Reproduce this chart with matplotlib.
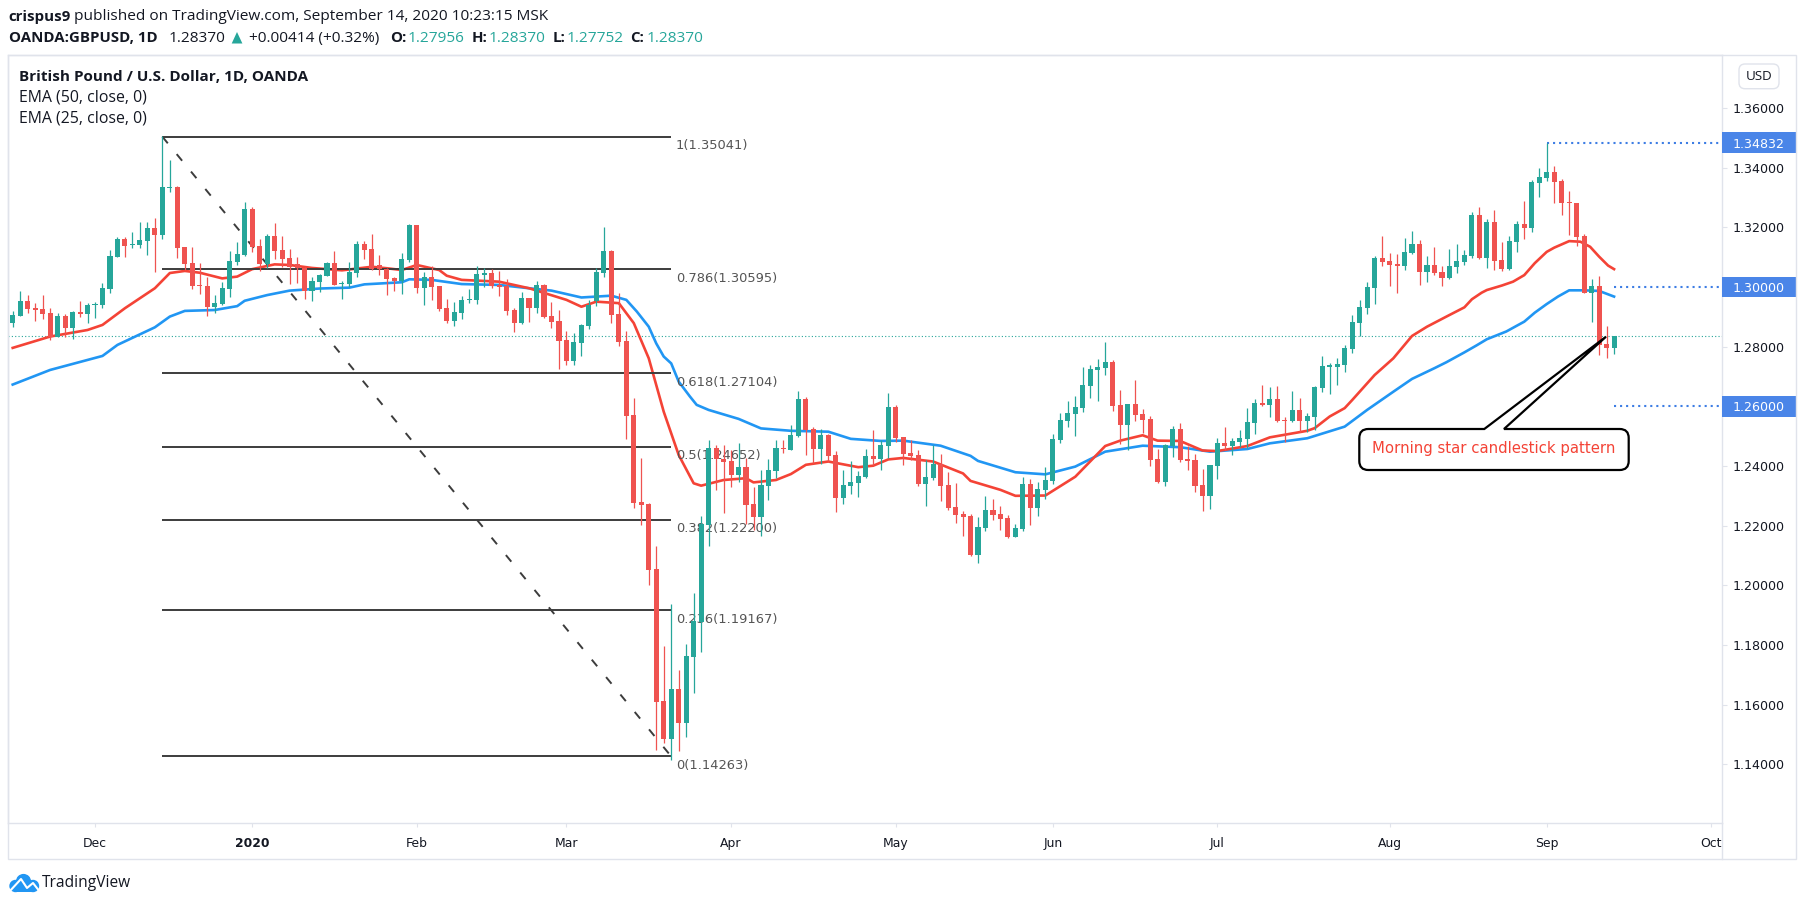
import matplotlib
matplotlib.use("Agg")
import matplotlib.pyplot as plt
from matplotlib.patches import Circle, FancyBboxPatch, PathPatch, Polygon, Rectangle
from matplotlib.path import Path
from matplotlib.transforms import blended_transform_factory

# daily GBPUSD bars
opens = [
    1.2881,1.2904,1.2953,1.2930,1.2926,1.2912,1.2834,1.2903,1.2864,1.2916,
    1.2911,1.2939,1.2940,1.2995,1.3102,1.3161,1.3140,1.3142,1.3155,1.3198,
    1.3176,1.3332,1.3335,1.3134,1.3079,1.3006,1.3003,1.2934,1.2943,1.2995,
    1.3084,1.3107,1.3262,1.3138,1.3078,1.3171,1.3124,1.3096,1.3076,1.3065,
    1.2987,1.3017,1.3038,1.3081,1.3009,1.3010,1.3048,1.3144,1.3128,1.3073,
    1.3061,1.3030,1.3021,1.3091,1.3208,1.2998,1.3033,1.3003,1.2930,1.2887,
    1.2914,1.2956,1.2958,1.3042,1.3046,1.3007,1.3004,1.2923,1.2880,1.2963,
    1.2930,1.3007,1.2903,1.2886,1.2823,1.2752,1.2813,1.2871,1.2953,1.3048,
    1.3122,1.2910,1.2819,1.2571,1.2280,1.2273,1.2055,1.1612,1.1485,1.1652,
    1.1538,1.1760,1.1877,1.2203,1.2461,1.2423,1.2417,1.2370,1.2397,1.2273,
    1.2229,1.2333,1.2383,1.2460,1.2454,1.2501,1.2625,1.2524,1.2457,1.2504,
    1.2437,1.2293,1.2333,1.2343,1.2363,1.2434,1.2424,1.2467,1.2598,1.2497,
    1.2444,1.2437,1.2340,1.2360,1.2407,1.2336,1.2263,1.2239,1.2232,1.2102,
    1.2192,1.2253,1.2239,1.2226,1.2162,1.2189,1.2340,1.2259,1.2320,1.2350,
    1.2487,1.2551,1.2574,1.2594,1.2668,1.2722,1.2729,1.2749,1.2605,1.2537,
    1.2608,1.2574,1.2558,1.2424,1.2346,1.2467,1.2524,1.2424,1.2420,1.2336,
    1.2299,1.2400,1.2477,1.2467,1.2481,1.2491,1.2544,1.2611,1.2605,1.2625,
    1.2554,1.2551,1.2588,1.2551,1.2564,1.2662,1.2733,1.2733,1.2739,1.2792,
    1.2880,1.2930,1.2997,1.3098,1.3088,1.3077,1.3071,1.3114,1.3144,1.3051,
    1.3074,1.3051,1.3029,1.3067,1.3084,1.3104,1.3242,1.3098,1.3218,1.3091,
    1.3061,1.3151,1.3212,1.3198,1.3349,1.3366,1.3386,1.3355,1.3285,1.3282,
    1.3171,1.2980,1.3003,1.2809,1.27956]
highs = [
    1.2920,1.2987,1.2973,1.2948,1.2973,1.2930,1.2913,1.2910,1.2921,1.2953,
    1.2948,1.2951,1.3014,1.3124,1.3167,1.3167,1.3184,1.3218,1.3218,1.3231,
    1.3508,1.3426,1.3339,1.3135,1.3134,1.3079,1.3035,1.2973,1.3018,1.3121,
    1.3151,1.3285,1.3268,1.3160,1.3178,1.3215,1.3171,1.3128,1.3102,1.3067,
    1.3034,1.3044,1.3085,1.3121,1.3020,1.3083,1.3154,1.3154,1.3178,1.3107,
    1.3063,1.3035,1.3113,1.3211,1.3208,1.3049,1.3072,1.3003,1.2960,1.2950,
    1.2970,1.2994,1.3071,1.3063,1.3060,1.3054,1.3026,1.2929,1.2984,1.2963,
    1.3020,1.3010,1.2950,1.2923,1.2853,1.2845,1.2876,1.2957,1.3063,1.3200,
    1.3124,1.2979,1.2853,1.2627,1.2427,1.2276,1.2132,1.1797,1.1937,1.1716,
    1.1803,1.1974,1.2232,1.2487,1.2471,1.2471,1.2454,1.2477,1.2426,1.2330,
    1.2387,1.2424,1.2487,1.2487,1.2537,1.2652,1.2631,1.2531,1.2524,1.2507,
    1.2450,1.2387,1.2417,1.2383,1.2457,1.2521,1.2487,1.2645,1.2605,1.2497,
    1.2487,1.2454,1.2420,1.2471,1.2440,1.2380,1.2343,1.2249,1.2239,1.2229,
    1.2300,1.2289,1.2266,1.2236,1.2206,1.2363,1.2356,1.2346,1.2397,1.2507,
    1.2578,1.2618,1.2635,1.2732,1.2739,1.2759,1.2816,1.2755,1.2655,1.2608,
    1.2688,1.2591,1.2568,1.2457,1.2474,1.2534,1.2544,1.2467,1.2440,1.2390,
    1.2403,1.2494,1.2531,1.2494,1.2521,1.2595,1.2625,1.2672,1.2665,1.2668,
    1.2565,1.2652,1.2628,1.2578,1.2668,1.2769,1.2746,1.2762,1.2806,1.2906,
    1.2957,1.3017,1.3104,1.3171,1.3114,1.3111,1.3165,1.3188,1.3158,1.3104,
    1.3134,1.3071,1.3127,1.3144,1.3124,1.3252,1.3269,1.3228,1.3258,1.3151,
    1.3171,1.3222,1.3289,1.3359,1.3399,1.3483,1.3406,1.3362,1.3322,1.3282,
    1.3178,1.3027,1.3037,1.2869,1.2837]
lows = [
    1.2867,1.2904,1.2912,1.2886,1.2893,1.2822,1.2834,1.2834,1.2827,1.2898,
    1.2881,1.2896,1.2931,1.2981,1.3102,1.3102,1.3132,1.3131,1.3109,1.3052,
    1.3162,1.3320,1.3098,1.3057,1.2992,1.2978,1.2904,1.2914,1.2940,1.2968,
    1.3074,1.3105,1.3119,1.3055,1.3063,1.3093,1.3068,1.3011,1.3012,1.2960,
    1.2953,1.2983,1.3037,1.3007,1.2960,1.3001,1.3034,1.3094,1.3057,1.3039,
    1.2973,1.2987,1.2977,1.3084,1.2981,1.2940,1.2957,1.2920,1.2881,1.2870,
    1.2892,1.2948,1.2943,1.3001,1.2998,1.2970,1.2906,1.2849,1.2876,1.2884,
    1.2912,1.2896,1.2861,1.2725,1.2739,1.2740,1.2769,1.2860,1.2937,1.3035,
    1.2881,1.2803,1.2491,1.2259,1.2202,1.2001,1.1448,1.1471,1.1415,1.1445,
    1.1491,1.1639,1.1776,1.2132,1.2320,1.2244,1.2330,1.2347,1.2206,1.2186,
    1.2166,1.2286,1.2360,1.2444,1.2454,1.2497,1.2437,1.2410,1.2407,1.2417,
    1.2246,1.2273,1.2306,1.2296,1.2360,1.2403,1.2387,1.2427,1.2480,1.2403,
    1.2420,1.2333,1.2266,1.2353,1.2283,1.2253,1.2209,1.2165,1.2098,1.2075,
    1.2182,1.2219,1.2186,1.2159,1.2162,1.2182,1.2202,1.2232,1.2289,1.2340,
    1.2477,1.2531,1.2501,1.2581,1.2628,1.2618,1.2705,1.2584,1.2474,1.2454,
    1.2551,1.2511,1.2400,1.2343,1.2333,1.2430,1.2413,1.2387,1.2313,1.2249,
    1.2256,1.2357,1.2454,1.2437,1.2464,1.2461,1.2508,1.2601,1.2565,1.2548,
    1.2481,1.2548,1.2514,1.2514,1.2521,1.2648,1.2642,1.2672,1.2715,1.2779,
    1.2836,1.2910,1.2943,1.3071,1.3004,1.2980,1.3057,1.3111,1.3007,1.3017,
    1.3041,1.3004,1.3027,1.3047,1.3074,1.3098,1.3094,1.3064,1.3057,1.3054,
    1.3057,1.3118,1.3161,1.3185,1.3302,1.3355,1.3282,1.3242,1.3174,1.3138,
    1.2980,1.2883,1.2772,1.2762,1.27752]
closes = [
    1.2906,1.2953,1.2928,1.2924,1.2911,1.2834,1.2903,1.2864,1.2916,1.2911,
    1.2940,1.2943,1.2997,1.3104,1.3161,1.3139,1.3144,1.3158,1.3198,1.3176,
    1.3335,1.3335,1.3132,1.3078,1.3005,1.3002,1.2934,1.2947,1.2996,1.3087,
    1.3111,1.3262,1.3135,1.3078,1.3171,1.3122,1.3095,1.3068,1.3063,1.2987,
    1.3019,1.3041,1.3081,1.3008,1.3014,1.3050,1.3144,1.3125,1.3061,1.3059,
    1.3027,1.3021,1.3094,1.3208,1.2998,1.3033,1.3001,1.2926,1.2886,1.2917,
    1.2957,1.2960,1.3044,1.3046,1.3004,1.2999,1.2920,1.2880,1.2963,1.2930,
    1.3007,1.2900,1.2883,1.2819,1.2752,1.2816,1.2873,1.2941,1.3052,1.3121,
    1.2906,1.2816,1.2568,1.2276,1.2270,1.2052,1.1610,1.1485,1.1652,1.1538,
    1.1763,1.1880,1.2206,1.2461,1.2423,1.2415,1.2370,1.2397,1.2270,1.2229,
    1.2337,1.2387,1.2460,1.2456,1.2504,1.2625,1.2521,1.2457,1.2504,1.2434,
    1.2293,1.2336,1.2346,1.2367,1.2434,1.2424,1.2471,1.2598,1.2494,1.2440,
    1.2434,1.2340,1.2363,1.2407,1.2333,1.2259,1.2236,1.2229,1.2102,1.2196,
    1.2253,1.2236,1.2222,1.2162,1.2192,1.2340,1.2259,1.2323,1.2353,1.2491,
    1.2554,1.2578,1.2598,1.2672,1.2725,1.2732,1.2749,1.2601,1.2537,1.2608,
    1.2571,1.2554,1.2420,1.2346,1.2471,1.2524,1.2420,1.2417,1.2333,1.2299,
    1.2403,1.2477,1.2467,1.2484,1.2494,1.2548,1.2611,1.2606,1.2625,1.2551,
    1.2551,1.2588,1.2551,1.2568,1.2665,1.2735,1.2738,1.2742,1.2796,1.2883,
    1.2933,1.3000,1.3098,1.3084,1.3074,1.3072,1.3118,1.3144,1.3051,1.3074,
    1.3047,1.3030,1.3071,1.3088,1.3108,1.3242,1.3098,1.3218,1.3088,1.3061,
    1.3155,1.3212,1.3198,1.3352,1.3369,1.3386,1.3352,1.3282,1.3281,1.3168,
    1.2980,1.3003,1.2806,1.2796,1.2837]

# EMA lines, read at the bars where they bend
ema25_idx = [0,5,10,12,15,19,21,23,25,28,30,32,35,37,40,44,48,50,52,54,57,58,60,65,69,74,76,78,81,83,85,87,89,91,92,95,98,99,
             102,104,106,109,113,115,117,119,123,127,128,132,134,138,142,146,148,151,153,156,159,161,165,168,173,174,176,178,
             179,182,184.5,187,189,191.6,194,195,196.3,197,199,200.5,202,203.4,205,206,207,208,209.5,210.8,212,213.2,214]
ema25 = [1.2796,1.2834,1.2856,1.2873,1.2929,1.2996,1.3047,1.3054,1.3048,1.3029,1.3035,1.3060,1.3076,1.3074,1.3064,1.3056,
         1.3068,1.3063,1.3057,1.3074,1.3057,1.3038,1.3024,1.3018,1.2996,1.2957,1.2934,1.2951,1.2946,1.2879,1.2761,1.2582,
         1.2437,1.2342,1.2334,1.2353,1.2359,1.2345,1.2353,1.2373,1.2404,1.2415,1.2396,1.2401,1.2422,1.2427,1.2415,1.2375,
         1.2350,1.2320,1.2300,1.2301,1.2364,1.2467,1.2485,1.2503,1.2485,1.2484,1.2452,1.2450,1.2467,1.2496,1.2518,1.2527,
         1.2566,1.2594,1.2621,1.2705,1.2761,1.2836,1.2867,1.2901,1.2932,1.2959,1.2981,1.2990,1.3005,1.3018,1.3040,1.3080,
         1.3118,1.3132,1.3143,1.3154,1.3152,1.3135,1.3102,1.3072,1.3060]
ema50_idx = [0,5,12,14,19,21,23,27,30,31,34,37,41,45,47,52,53,56,60,65,69,72,76,78,80,82,83.4,85,86,87,88,89,90.5,91.4,93,97,100,
             104,109,112,116,119,124,128,129,134,138,142,146,151,156,160,165,168,173,178,181,184.5,187,190,191.6,194,195.6,
             197,199.6,202,203.4,205,206.5,208,210,212,214]
ema50 = [1.2673,1.2722,1.2769,1.2806,1.2865,1.2901,1.2920,1.2923,1.2936,1.2954,1.2973,1.2988,1.2995,1.2998,1.3009,1.3016,
         1.3026,1.3024,1.3010,1.3007,1.2996,1.2988,1.2965,1.2968,1.2971,1.2957,1.2918,1.2867,1.2811,1.2767,1.2744,1.2683,
         1.2633,1.2605,1.2588,1.2558,1.2526,1.2518,1.2515,1.2491,1.2484,1.2485,1.2468,1.2434,1.2417,1.2379,1.2372,1.2398,
         1.2448,1.2468,1.2463,1.2448,1.2457,1.2476,1.2493,1.2532,1.2588,1.2649,1.2692,1.2728,1.2748,1.2781,1.2804,1.2825,
         1.2851,1.2884,1.2914,1.2943,1.2968,1.2989,1.2989,1.2987,1.2968]

fib_levels = ["1", "0.786", "0.618", "0.5", "0.382", "0.236", "0"]
fib_prices = [1.35041, 1.30595, 1.27104, 1.24652, 1.22200, 1.19167, 1.14263]
fib_start = 20
fib_end = 88

price_ticks = [1.14, 1.16, 1.18, 1.20, 1.22, 1.24, 1.26, 1.28, 1.30, 1.32, 1.34, 1.36]
tag_prices = [1.34832, 1.30, 1.26]
tag_start = [205, 214, 214]
last_price = 1.2837
time_ticks = [11, 32, 54, 74, 96, 118, 139, 161, 184, 205, 227]
time_labels = ["Dec", "2020", "Feb", "Mar", "Apr", "May", "Jun", "Jul", "Aug", "Sep", "Oct"]

GREEN = "#26a69a"
RED = "#ef5350"
BORDER = "#e0e3eb"
TEXT = "#131722"
TAG = "#4a85e8"
W, H = 1805, 906
HEAD = ["Open Sans", "DejaVu Sans"]

plt.rcParams["font.family"] = "DejaVu Sans"
fig = plt.figure(figsize=(W / 100, H / 100), dpi=100, facecolor="white")

# price pane, placed by its pixel edges
left, right, top, bottom = 8, 1721.6, 55, 823
ax = fig.add_axes([left / W, 1 - bottom / H, (right - left) / W, (bottom - top) / H])
ax.set_xlim(-0.628, 228.37)
ax.set_ylim(1.1203, 1.3778)
for s in ax.spines.values():
    s.set_color(BORDER)
    s.set_linewidth(1)

ax.axhline(last_price, color=GREEN, lw=0.8, ls=(0, (1, 2)), zorder=1)
ax.plot(ema50_idx, ema50, color="#2196f3", lw=1.9, zorder=2)
ax.plot(ema25_idx, ema25, color="#f44336", lw=1.9, zorder=2.1)

# fib retracement
ax.hlines(fib_prices, fib_start, fib_end, color="#3c3c3c", lw=1.4, zorder=2.5)
ax.plot([fib_start, fib_end], [fib_prices[0], fib_prices[-1]], color="#3c3c3c", lw=1.4,
        ls=(0, (4.4, 7.2)), zorder=2.5)
for lev, p in zip(fib_levels, fib_prices):
    ax.annotate(f"{lev}({p:.5f})", (fib_end, p), xytext=(3.2, -6.5), textcoords="offset points",
                va="center", ha="left", fontsize=9.4, color="#555555", zorder=2.6)

# candles
n = len(closes)
for i in range(n):
    col = GREEN if closes[i] >= opens[i] else RED
    ax.vlines(i, lows[i], highs[i], color=col, lw=0.9, zorder=4)
    ax.bar(i, abs(closes[i] - opens[i]), bottom=min(opens[i], closes[i]), width=0.68,
           color=col, linewidth=0, zorder=4.1)

# levels marked on the price scale
trans = blended_transform_factory(ax.transAxes, ax.transData)
for p, st in zip(tag_prices, tag_start):
    ax.hlines(p, st, 228.37, color="#3d7de4", lw=1.5, ls=(0, (1, 1.9)), zorder=3)
    ax.add_patch(Rectangle((1, p - 0.0035), 74.4 / (right - left), 0.007, transform=trans,
                           facecolor=TAG, edgecolor="none", clip_on=False, zorder=6))
    ax.text(1 + 11.4 / (right - left), p, f"{p:.5f}", transform=trans, color="white", fontsize=9.1,
            va="center_baseline", ha="left", zorder=7)

ax.yaxis.tick_right()
ax.set_yticks(price_ticks)
ax.set_yticklabels([f"{p:.5f}" if p not in tag_prices else "" for p in price_ticks])
ax.tick_params(axis="y", length=3.6, width=0.8, color=BORDER, labelcolor=TEXT, labelsize=9.1, pad=4.6)
ax.set_xticks(time_ticks)
ax.set_xticklabels(time_labels)
ax.tick_params(axis="x", length=2.9, width=0.8, color=BORDER, labelcolor=TEXT, labelsize=8.9, pad=7)
ax.get_xticklabels()[1].set_fontweight("bold")

# everything else sits on a pixel overlay
ov = fig.add_axes([0, 0, 1, 1], facecolor="none")
ov.set_xlim(0, W)
ov.set_ylim(H, 0)
ov.axis("off")
ov.add_patch(Rectangle((8, 55), 1788, 804, fill=False, edgecolor=BORDER, lw=1))
ov.plot([right, right], [bottom, 859], color=BORDER, lw=1)

FS = 11.1
ov.text(8.7, 16.7, "crispus9", fontsize=10.8, fontweight="bold", color=TEXT, family=HEAD, va="center")
ov.text(73.5, 16.7, "published on TradingView.com, September 14, 2020 10:23:15 MSK", fontsize=FS,
        color=TEXT, family=HEAD, va="center")
ov.text(8.7, 38.3, "OANDA:GBPUSD, 1D", fontsize=10.8, fontweight="bold", color=TEXT, family=HEAD, va="center")
ov.text(168.7, 38.3, "1.28370", fontsize=FS, color=TEXT, family=HEAD, va="center")
ov.add_patch(Polygon([[231.7, 43.5], [242.4, 43.5], [237, 32]], facecolor=GREEN, edgecolor="none"))
ov.text(248.7, 38.3, "+0.00414 (+0.32%)", fontsize=FS, color=TEXT, family=HEAD, va="center")
for lab, val, xl, xv in [("O:", "1.27956", 390, 408), ("H:", "1.28370", 471.6, 488.6),
                         ("L:", "1.27752", 552.6, 567), ("C:", "1.28370", 630, 647)]:
    ov.text(xl, 38.3, lab, fontsize=10.8, fontweight="bold", color=TEXT, family=HEAD, va="center")
    ov.text(xv, 38.3, val, fontsize=FS, color=GREEN, family=HEAD, va="center")

ov.text(19.4, 76.7, "British Pound / U.S. Dollar, 1D, OANDA", fontsize=11, fontweight="bold",
        color=TEXT, family=HEAD, va="center")
ov.text(19.4, 97.7, "EMA (50, close, 0)", fontsize=11.4, color=TEXT, family=HEAD, va="center")
ov.text(19.4, 118.3, "EMA (25, close, 0)", fontsize=11.4, color=TEXT, family=HEAD, va="center")

ov.add_patch(FancyBboxPatch((1739 + 5, 64 + 5), 30, 14.7, boxstyle="round,pad=5,rounding_size=6",
                            facecolor="white", edgecolor=BORDER, lw=1))
ov.text(1759, 76.5, "USD", fontsize=9.6, color=TEXT, family=HEAD, ha="center", va="center")

# callout box with its tail
x0, x1, y0, y1, r = 1359.3, 1628.7, 429, 470, 9
tail_a, tail_b, tip = (1484.3, y0), (1504, y0), (1606, 336.7)
verts = [(x0 + r, y0), tail_a, tip, tail_b, (x1 - r, y0), (x1, y0), (x1, y0 + r), (x1, y1 - r), (x1, y1),
         (x1 - r, y1), (x0 + r, y1), (x0, y1), (x0, y1 - r), (x0, y0 + r), (x0, y0), (x0 + r, y0), (x0 + r, y0)]
codes = [Path.MOVETO, Path.LINETO, Path.LINETO, Path.LINETO, Path.LINETO, Path.CURVE3, Path.CURVE3, Path.LINETO,
         Path.CURVE3, Path.CURVE3, Path.LINETO, Path.CURVE3, Path.CURVE3, Path.LINETO, Path.CURVE3, Path.CURVE3,
         Path.CLOSEPOLY]
ov.add_patch(PathPatch(Path(verts, codes), facecolor="white", edgecolor="black", lw=1.6, joinstyle="miter"))
ov.text(1372, 449, "Morning star candlestick pattern", fontsize=10.7, color="#f44336", va="center", ha="left")

# TradingView logo
LOGO = "#2196f3"
ov.add_patch(Circle((15.5, 886), 6.2, facecolor=LOGO, edgecolor="none"))
ov.add_patch(Circle((23.5, 881.5), 7.6, facecolor=LOGO, edgecolor="none"))
ov.add_patch(Circle((33, 886), 6.2, facecolor=LOGO, edgecolor="none"))
ov.add_patch(Rectangle((15.5, 884), 17.5, 8.2, facecolor=LOGO, edgecolor="none"))
ov.plot([9, 21, 27, 33, 40], [892, 879, 888, 883, 892], color="white", lw=1.5)
ov.text(42, 883, "TradingView", fontsize=11.2, color=TEXT, family=HEAD, va="center")

fig.savefig("out.png", dpi=100, facecolor="white")
